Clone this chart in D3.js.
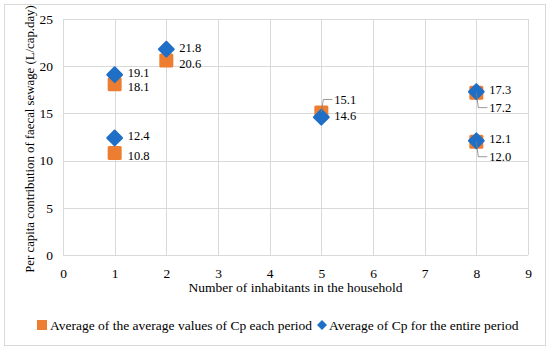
<!DOCTYPE html>
<html>
<head>
<meta charset="utf-8">
<script src="https://cdn.jsdelivr.net/npm/d3@7"></script>
<style>
  body { margin: 0; background: #fff; }
  text { font-family: "Liberation Serif", "DejaVu Serif", serif; fill: #000; }
</style>
</head>
<body>
<div id="chart"></div>
<script>
"use strict";
// data
var inhabitants = [1, 1, 2, 5, 8, 8];
var avgOfPeriods = [18.1, 10.8, 20.6, 15.1, 17.2, 12.0];
var avgEntire = [19.1, 12.4, 21.8, 14.6, 17.3, 12.1];
var xTicks = [0, 1, 2, 3, 4, 5, 6, 7, 8, 9];
var yTicks = [0, 5, 10, 15, 20, 25];
var seriesNames = ["Average of the average values of Cp each period", "Average of Cp for the entire period"];
// label placement: "right" = beside marker, "up"/"down" = with leader line
var orangePlace = ["right", "right", "right", "up", "down", "down"];
var bluePlace = ["right", "right", "right", "right", "right", "right"];

var W = 550, H = 351;
var margin = { top: 19, right: 22, bottom: 96, left: 63 };
var width = W - margin.left - margin.right;
var height = H - margin.top - margin.bottom;
var ORANGE = "#ED7D31", BLUE = "#1F6FC6", GRID = "#d9d9d9";

var svg = d3.select("#chart").append("svg")
    .attr("width", W)
    .attr("height", H);

// outer frame
svg.append("rect")
    .attr("x", 4.5).attr("y", 4.5)
    .attr("width", 541).attr("height", 341)
    .attr("fill", "#fff")
    .attr("stroke", "#d9d9d9");

var g = svg.append("g")
    .attr("transform", "translate(" + margin.left + "," + margin.top + ")");

var x = d3.scaleLinear().domain([0, 9]).range([0, width]);
var y = d3.scaleLinear().domain([0, 25]).range([height, 0]);

// grid
g.selectAll("line.vg").data(xTicks).enter().append("line")
    .attr("class", "vg")
    .attr("x1", function (d) { return Math.round(x(d)) + 0.5; })
    .attr("x2", function (d) { return Math.round(x(d)) + 0.5; })
    .attr("y1", 0).attr("y2", height)
    .attr("stroke", GRID);
g.selectAll("line.hg").data(yTicks).enter().append("line")
    .attr("class", "hg")
    .attr("y1", function (d) { return Math.round(y(d)) + 0.5; })
    .attr("y2", function (d) { return Math.round(y(d)) + 0.5; })
    .attr("x1", 0).attr("x2", width)
    .attr("stroke", GRID);

// axes (labels only)
var xAxis = g.append("g")
    .attr("transform", "translate(0," + height + ")")
    .call(d3.axisBottom(x).tickValues(xTicks).tickSize(0).tickPadding(13));
var yAxis = g.append("g")
    .call(d3.axisLeft(y).tickValues(yTicks).tickSize(0).tickPadding(10));
[xAxis, yAxis].forEach(function (a) {
    a.attr("font-family", null).attr("font-size", null);
    a.select(".domain").remove();
    a.selectAll("text")
        .style("font-size", "13.5px")
        .attr("fill", "#000");
});

// axis titles
svg.append("text")
    .attr("x", margin.left + width / 2)
    .attr("y", 292)
    .attr("text-anchor", "middle")
    .style("font-size", "13.5px")
    .text("Number of inhabitants in the household");
svg.append("text")
    .attr("transform", "translate(34," + (margin.top + height / 2 + 2) + ") rotate(-90)")
    .attr("text-anchor", "middle")
    .style("font-size", "12.8px")
    .text("Per capita contribution of faecal sewage (L/cap.day)");

// markers
var pts = inhabitants.map(function (v, i) {
    return { x: v, o: avgOfPeriods[i], b: avgEntire[i], op: orangePlace[i], bp: bluePlace[i] };
});

g.selectAll("rect.mk").data(pts).enter().append("rect")
    .attr("class", "mk")
    .attr("x", function (d) { return x(d.x) - 7; })
    .attr("y", function (d) { return y(d.o) - 7; })
    .attr("width", 14).attr("height", 14)
    .attr("rx", 1.5)
    .attr("fill", ORANGE);

var diamond = d3.symbol().type(d3.symbolSquare).size(110);
g.selectAll("path.mk").data(pts).enter().append("path")
    .attr("class", "mk")
    .attr("d", diamond)
    .attr("transform", function (d) {
        return "translate(" + x(d.x) + "," + y(d.b) + ") rotate(45)";
    })
    .attr("fill", BLUE)
    .attr("stroke", BLUE)
    .attr("stroke-width", 2)
    .attr("stroke-linejoin", "round");

// data labels
function addLabel(d, val, place, dy) {
    var px = x(d.x), py = y(val);
    var fmt = d3.format(".1f");
    if (place === "right") {
        g.append("text")
            .attr("x", px + 13).attr("y", py + 4.5 + dy)
            .style("font-size", "12.5px")
            .text(fmt(val));
        return;
    }
    var ty = place === "up" ? py - 13 : py + 15;
    g.append("path")
        .attr("d", "M" + px + "," + py + " L" + (px + 2) + "," + ty + " L" + (px + 11) + "," + ty)
        .attr("fill", "none")
        .attr("stroke", "#7f7f7f")
        .attr("stroke-width", 0.8);
    g.append("text")
        .attr("x", px + 13).attr("y", ty + 4.5)
        .style("font-size", "12.5px")
        .text(fmt(val));
}
pts.forEach(function (d) {
    addLabel(d, d.o, d.op, 2.5);
    addLabel(d, d.b, d.bp, -2);
});

// legend
var leg = svg.append("g").attr("transform", "translate(0,325)");
leg.append("rect")
    .attr("x", 37).attr("y", -5).attr("width", 10).attr("height", 10)
    .attr("fill", ORANGE);
leg.append("text")
    .attr("x", 50).attr("y", 4.5)
    .style("font-size", "13.5px")
    .text(seriesNames[0]);
leg.append("path")
    .attr("d", d3.symbol().type(d3.symbolSquare).size(50))
    .attr("transform", "translate(322,0) rotate(45)")
    .attr("fill", BLUE);
leg.append("text")
    .attr("x", 329).attr("y", 4.5)
    .style("font-size", "13.5px")
    .text(seriesNames[1]);
</script>
</body>
</html>
